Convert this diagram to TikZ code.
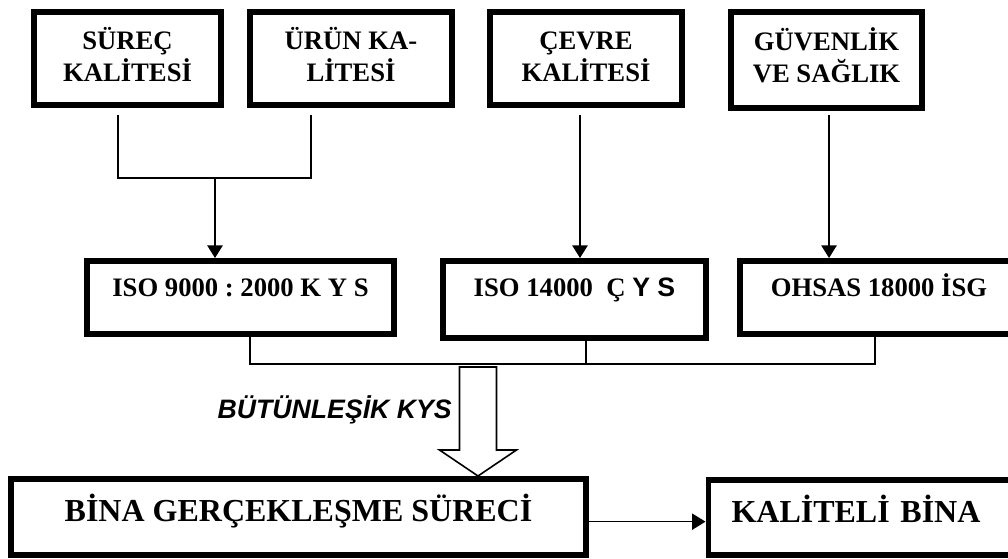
\documentclass[tikz,border=0pt]{standalone}
\usepackage{fontspec}
\setmainfont{Liberation Serif}
\newfontfamily\arialfont{Liberation Sans}
\usetikzlibrary{arrows.meta}
\frenchspacing

\begin{document}
\begin{tikzpicture}[x=0.75pt,y=-0.75pt,
  box/.style={draw,line width=4.2pt,inner sep=0pt,align=center,
    font=\fontsize{20}{24}\selectfont\bfseries},
  topbox/.style={box,minimum height=70pt,text height=40pt,text depth=4.75pt},
  midbox/.style={box,minimum height=55pt,text height=14pt,text depth=16pt},
  bigbox/.style={box,minimum height=57.3pt,text height=17pt,text depth=9.5pt,
    font=\fontsize{24}{29}\selectfont\bfseries},
  link/.style={line width=1.2pt},
  arr/.style={link,-{Triangle[length=9.5pt,width=11.5pt]}},
  hollow/.style={draw,line width=1.2pt,fill=white,line join=miter}]
\useasboundingbox (0,0) rectangle (1008,559);

% top row
\node[topbox,minimum width=140.6pt] (surec) at (127.5,58.5) {SÜREÇ\\KALİTESİ};
\node[topbox,minimum width=151.8pt] (urun) at (351,58.5) {ÜRÜN KA-\\LİTESİ};
\node[topbox,minimum width=144.3pt] (cevre) at (586,58.5) {ÇEVRE\\KALİTESİ};
\node[topbox,minimum width=143.6pt,minimum height=72.3pt,text depth=6.25pt] (guven) at (826.5,60) {GÜVENLİK\\VE SAĞLIK};

% middle row
\node[midbox,minimum width=230.6pt] (kys) at (240.5,297.5) {ISO 9000 : 2000 K Y S};
\node[midbox,minimum width=197.6pt,minimum height=58pt,text depth=19pt] (cys) at (574.5,299.5) {ISO 14000~~Ç {\arialfont Y S}};
\node[midbox,minimum width=208.8pt] (isg) at (879,297.5) {OHSAS 18000 İSG};

% bottom row
\node[bigbox,minimum width=431.6pt] (bina) at (298.5,517) {BİNA GERÇEKLEŞME SÜRECİ};
\node[bigbox,minimum height=56.6pt,text width=195pt,inner xsep=17.4pt,align=left] (kalite) at (861.5,517.5) {KALİTELİ BİNA};

% connectors
\coordinate (j1) at (215,178);
\draw[link] ([xshift=-7.1pt,yshift=-5.25pt]surec.south) |- (j1)
  -| ([xshift=-30pt,yshift=-5.25pt]urun.south);
\draw[arr] (j1) -- (j1 |- kys.north);
\draw[arr] ([xshift=-4.5pt,yshift=-5.25pt]cevre.south) coordinate (c3) -- (c3 |- cys.north);
\draw[arr] ([xshift=1.9pt,yshift=-3pt]guven.south) coordinate (c4) -- (c4 |- isg.north);

\coordinate (j3) at (875,364);
\draw[link] ([xshift=7.1pt]kys.south) |- (j3) -- (j3 |- isg.south);
\draw[link] ([xshift=8.6pt]cys.south) coordinate (c6) -- (c6 |- j3);

% integrated arrow
\coordinate (j4) at (478,367);
\draw[hollow] (j4) ++(-18.5,0) -- ++(37,0) -- ++(0,83) -- ++(20,0)
  -- (j4 |- bina.north) -- ++(-38.5,-26) -- ++(20,0) -- cycle;
\node[anchor=base east,inner sep=0pt,font=\fontsize{20}{24}\selectfont\arialfont\bfseries\itshape]
  (btn) at (452,419) {BÜTÜNLEŞİK KYS};

\draw[arr,-{Triangle[length=10pt,width=12pt]}] ([yshift=-3.5pt]bina.east) coordinate (b1) -- (b1 -| kalite.west);
\end{tikzpicture}
\end{document}
